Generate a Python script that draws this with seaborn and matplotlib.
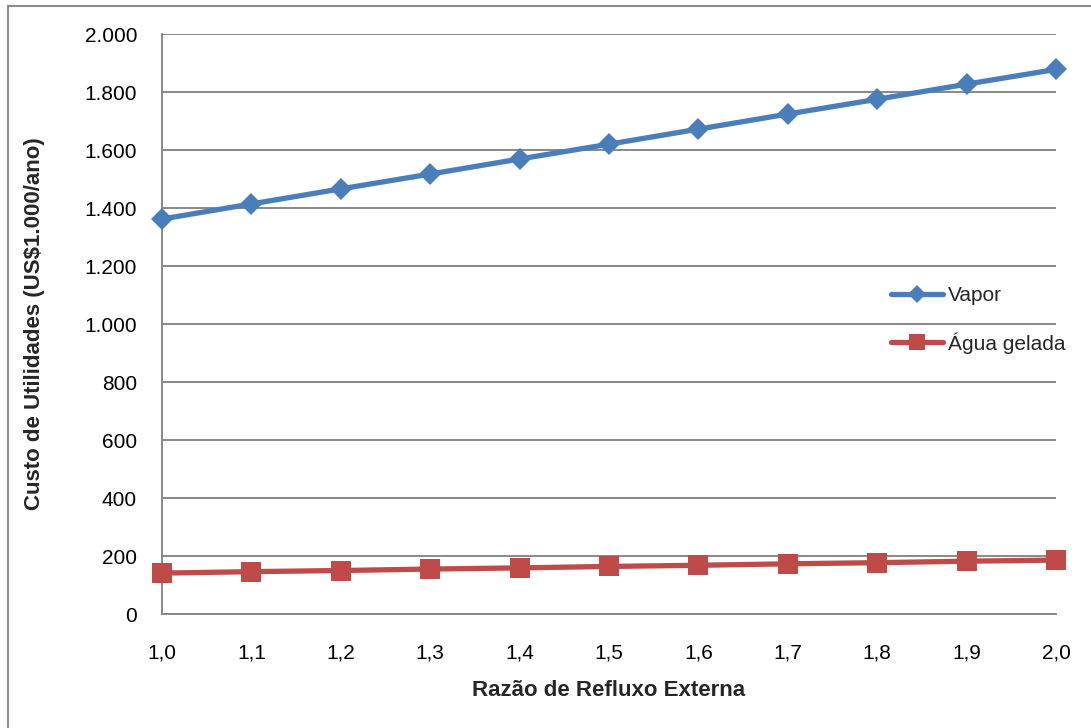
import matplotlib
matplotlib.use("Agg")
import matplotlib.pyplot as plt
import matplotlib.ticker as mticker
from matplotlib.patches import Rectangle
import seaborn as sns
import pandas as pd

# Razão de refluxo externa e custos anuais de utilidades (US$1.000/ano)
razao = [1.0, 1.1, 1.2, 1.3, 1.4, 1.5, 1.6, 1.7, 1.8, 1.9, 2.0]
vapor = [1362, 1414, 1466, 1517, 1569, 1620, 1672, 1724, 1775, 1827, 1878]
agua_gelada = [141, 146, 150, 155, 159, 164, 168, 173, 177, 182, 186]
series_names = ["Vapor", "Água gelada"]
y_ticks = list(range(0, 2001, 200))

df = pd.DataFrame({
    "Razão": razao * 2,
    "Custo": vapor + agua_gelada,
    "Série": [series_names[0]] * len(razao) + [series_names[1]] * len(razao),
})

sns.set_style("white")
plt.rcParams["font.family"] = ["Liberation Sans", "DejaVu Sans"]

W, H = 1091, 728
fig = plt.figure(figsize=(W / 100, H / 100), dpi=100)
left, right, top, bottom = 162, 1056, 34, 614
ax = fig.add_axes([left / W, 1 - bottom / H, (right - left) / W, (bottom - top) / H])

palette = {"Vapor": "#4A7EBB", "Água gelada": "#BE4B48"}
markers = {"Vapor": "D", "Água gelada": "s"}
sizes_main = {"Vapor": 11.5, "Água gelada": 14.5}
sizes_leg = {"Vapor": 9, "Água gelada": 11}

sns.lineplot(data=df, x="Razão", y="Custo", hue="Série", style="Série",
             palette=palette, markers=markers, dashes=False, ax=ax,
             linewidth=3.8, markeredgewidth=0, clip_on=False, zorder=3)
# marker size per series, matched by line colour
for line in ax.lines:
    c = matplotlib.colors.to_hex(line.get_color()).lower()
    for name, col in palette.items():
        if c == col.lower():
            line.set_markersize(sizes_main[name])

grid_c = "#888888"
fs = 15
ax.set_xlim(1.0, 2.0)
ax.set_ylim(0, 2000)
ax.set_xticks(razao)
ax.set_yticks(y_ticks)
ax.xaxis.set_major_formatter(mticker.FuncFormatter(lambda v, p: f"{v:.1f}".replace(".", ",")))
ax.yaxis.set_major_formatter(mticker.FuncFormatter(lambda v, p: f"{int(round(v)):,}".replace(",", ".")))
ax.yaxis.grid(True, color=grid_c, linewidth=1.4)
ax.set_axisbelow(True)
for s in ["top", "right"]:
    ax.spines[s].set_visible(False)
for s in ["left", "bottom"]:
    ax.spines[s].set_color(grid_c)
    ax.spines[s].set_linewidth(1.4)
ax.tick_params(axis="y", direction="out", length=6, width=1.4, color=grid_c,
               labelsize=fs, labelcolor="black", pad=12)
ax.tick_params(axis="x", direction="out", length=5, width=1.4, color=grid_c,
               labelsize=fs, labelcolor="black", pad=16)

ax.set_xlabel("Razão de Refluxo Externa", fontsize=16, fontweight="bold")
ax.set_ylabel("Custo de Utilidades (US$1.000/ano)", fontsize=16, fontweight="bold")
ax.xaxis.set_label_coords(0.5, -0.114)
ax.yaxis.set_label_coords(-0.131, 0.5)

handles, labels = ax.get_legend_handles_labels()
for h, lab in zip(handles, labels):
    h.set_linewidth(3.8)
    h.set_markersize(sizes_leg.get(lab, 10))
ax.legend(handles, labels, loc="upper left", bbox_to_anchor=(891 / W, 1 - 286 / H),
          bbox_transform=fig.transFigure, frameon=False, fontsize=fs,
          handlelength=2.5, handletextpad=0.25, labelspacing=1.3, borderpad=0,
          borderaxespad=0)

fig.add_artist(Rectangle((8 / W, -0.05), 1.2, 1.05 - 6 / H, transform=fig.transFigure,
                         fill=False, edgecolor="#8c8c8c", linewidth=1.5))

fig.savefig("out.png", dpi=100, facecolor="white")
